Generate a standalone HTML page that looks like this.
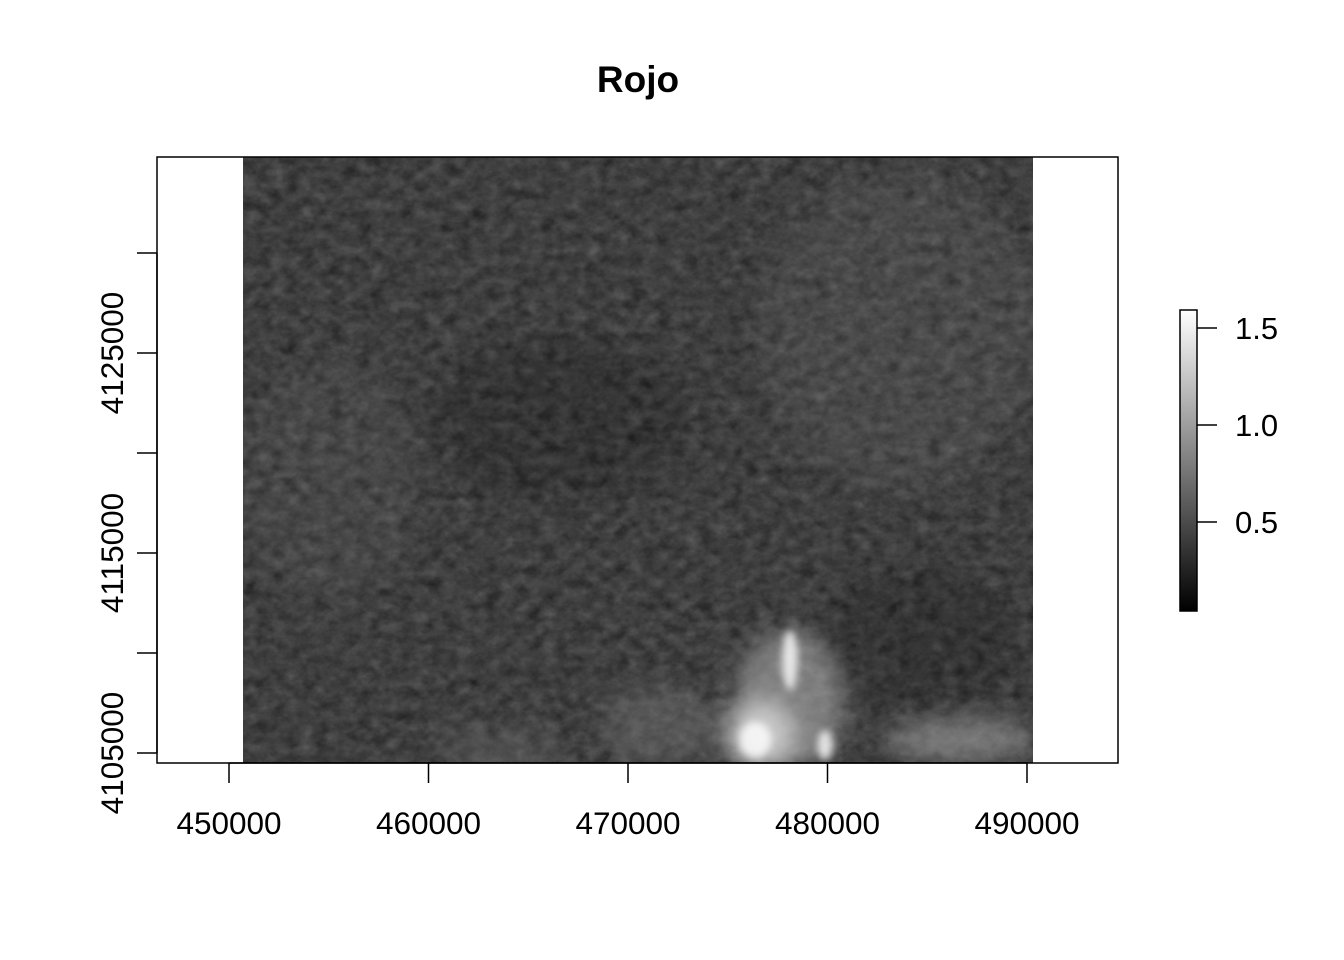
<!DOCTYPE html>
<html><head><meta charset="utf-8"><style>
html,body{margin:0;padding:0;background:#fff;}
svg{display:block;font-family:"Liberation Sans",Arial,sans-serif;}
filter{color-interpolation-filters:sRGB;}
</style></head><body>
<svg id="chart" width="1344" height="960" viewBox="0 0 1344 960" xmlns="http://www.w3.org/2000/svg">
<defs>
  <filter id="tex" x="0" y="0" width="100%" height="100%" color-interpolation-filters="sRGB">
    <feTurbulence type="fractalNoise" baseFrequency="0.07 0.09" numOctaves="4" seed="7" result="n"/>
    <feColorMatrix type="matrix" in="n" values="0.33 0.33 0.33 0 0  0.33 0.33 0.33 0 0  0.33 0.33 0.33 0 0  0 0 0 0 1" result="g"/>
    <feComponentTransfer in="g"><feFuncR type="linear" slope="0.4" intercept="0.05"/><feFuncG type="linear" slope="0.4" intercept="0.05"/><feFuncB type="linear" slope="0.4" intercept="0.05"/></feComponentTransfer>
  </filter>
  <filter id="blur8" color-interpolation-filters="sRGB"><feGaussianBlur stdDeviation="12"/></filter>
  <filter id="blur4" color-interpolation-filters="sRGB"><feGaussianBlur stdDeviation="4"/></filter>
  <linearGradient id="legGrad" x1="0" y1="1" x2="0" y2="0">
    <stop offset="0" stop-color="#000"/><stop offset="1" stop-color="#fff"/>
  </linearGradient>
  <clipPath id="rclip"><rect x="243" y="157" width="790" height="606"/></clipPath>
</defs>

<text x="638" y="92" text-anchor="middle" font-size="37" font-weight="bold">Rojo</text>

<g clip-path="url(#rclip)">
  <rect x="243" y="157" width="790" height="606" fill="#404040"/>
  <rect x="243" y="157" width="790" height="606" filter="url(#tex)"/>
  <g filter="url(#blur8)" opacity="0.15">
    <ellipse cx="900" cy="330" rx="140" ry="160" fill="#888"/>
    <ellipse cx="330" cy="480" rx="90" ry="120" fill="#777"/>
    <ellipse cx="560" cy="420" rx="130" ry="80" fill="#000"/>
    <ellipse cx="920" cy="640" rx="100" ry="70" fill="#000"/>
  </g>
  <g filter="url(#blur8)">
    <ellipse cx="790" cy="700" rx="55" ry="70" fill="#aaa" opacity="0.6"/>
    <ellipse cx="760" cy="735" rx="35" ry="35" fill="#ddd" opacity="0.8"/>
    <ellipse cx="960" cy="740" rx="75" ry="22" fill="#aaa" opacity="0.55"/>
    <ellipse cx="660" cy="725" rx="60" ry="40" fill="#888" opacity="0.35"/>
    <ellipse cx="500" cy="750" rx="70" ry="25" fill="#777" opacity="0.3"/>
  </g>
  <g filter="url(#blur4)" fill="#fff" opacity="0.8">
    <ellipse cx="790" cy="660" rx="8" ry="30"/>
    <ellipse cx="755" cy="740" rx="16" ry="18"/>
    <ellipse cx="825" cy="745" rx="8" ry="15"/>
  </g>
</g>

<rect x="157" y="157" width="961" height="606" fill="none" stroke="#000" stroke-width="1.5"/>

<g id="xaxis"></g>
<g id="yaxis"></g>

<g>
  <rect x="1180" y="310" width="17" height="301" fill="url(#legGrad)" stroke="#000" stroke-width="1.5"/>
  <g id="legticks"></g>
</g>

<script>
const xTicks = [450000, 460000, 470000, 480000, 490000];
const yTicks = [4105000, 4110000, 4115000, 4120000, 4125000, 4130000];
const yLabels = [4105000, 4115000, 4125000];
const legendTicks = [0.5, 1.0, 1.5];

const NS = "http://www.w3.org/2000/svg";
function X(v){ return 229 + (v - 450000) * 199.5 / 10000; }
function Y(v){ return 753 - (v - 4105000) * 100 / 5000; }
function L(v){ return 619 - v * 194; }
function mk(tag, attrs, parent){
  const e = document.createElementNS(NS, tag);
  for (const k in attrs) e.setAttribute(k, attrs[k]);
  parent.appendChild(e); return e;
}
const xa = document.getElementById('xaxis');
const xl = mk('line', {x1: X(xTicks[0]), x2: X(xTicks[xTicks.length-1]), y1: 763, y2: 763, stroke: '#000', 'stroke-width': 1.5}, xa);


xTicks.forEach(v => {
  const t = mk('line', {x1: X(v), x2: X(v), y1: 763, y2: 783, stroke: '#000', 'stroke-width': 1.5}, xa);
  
  
  const tx = mk('text', {x: X(v), y: 834, 'text-anchor': 'middle', 'font-size': 31.5}, xa);
  tx.textContent = v;
  
  
});
const ya = document.getElementById('yaxis');
const yl = mk('line', {x1: 157, x2: 157, y1: Y(yTicks[0]), y2: Y(yTicks[yTicks.length-1]), stroke: '#000', 'stroke-width': 1.5}, ya);


yTicks.forEach(v => {
  const t = mk('line', {x1: 137, x2: 157, y1: Y(v), y2: Y(v), stroke: '#000', 'stroke-width': 1.5}, ya);
  
  
});
yLabels.forEach(v => {
  const tx = mk('text', {x: 0, y: 0, 'text-anchor': 'middle', 'font-size': 31.5, transform: 'translate(123,' + Y(v) + ') rotate(-90)'}, ya);
  tx.textContent = v;
  
  
});
const lg = document.getElementById('legticks');
legendTicks.forEach(v => {
  const t = mk('line', {x1: 1197, x2: 1217, y1: L(v), y2: L(v), stroke: '#000', 'stroke-width': 1.5}, lg);
  
  
  const tx = mk('text', {x: 1235, y: L(v) + 11, 'font-size': 31}, lg);
  tx.textContent = v.toFixed(1);
  
  
});
</script>
</svg>
</body></html>
